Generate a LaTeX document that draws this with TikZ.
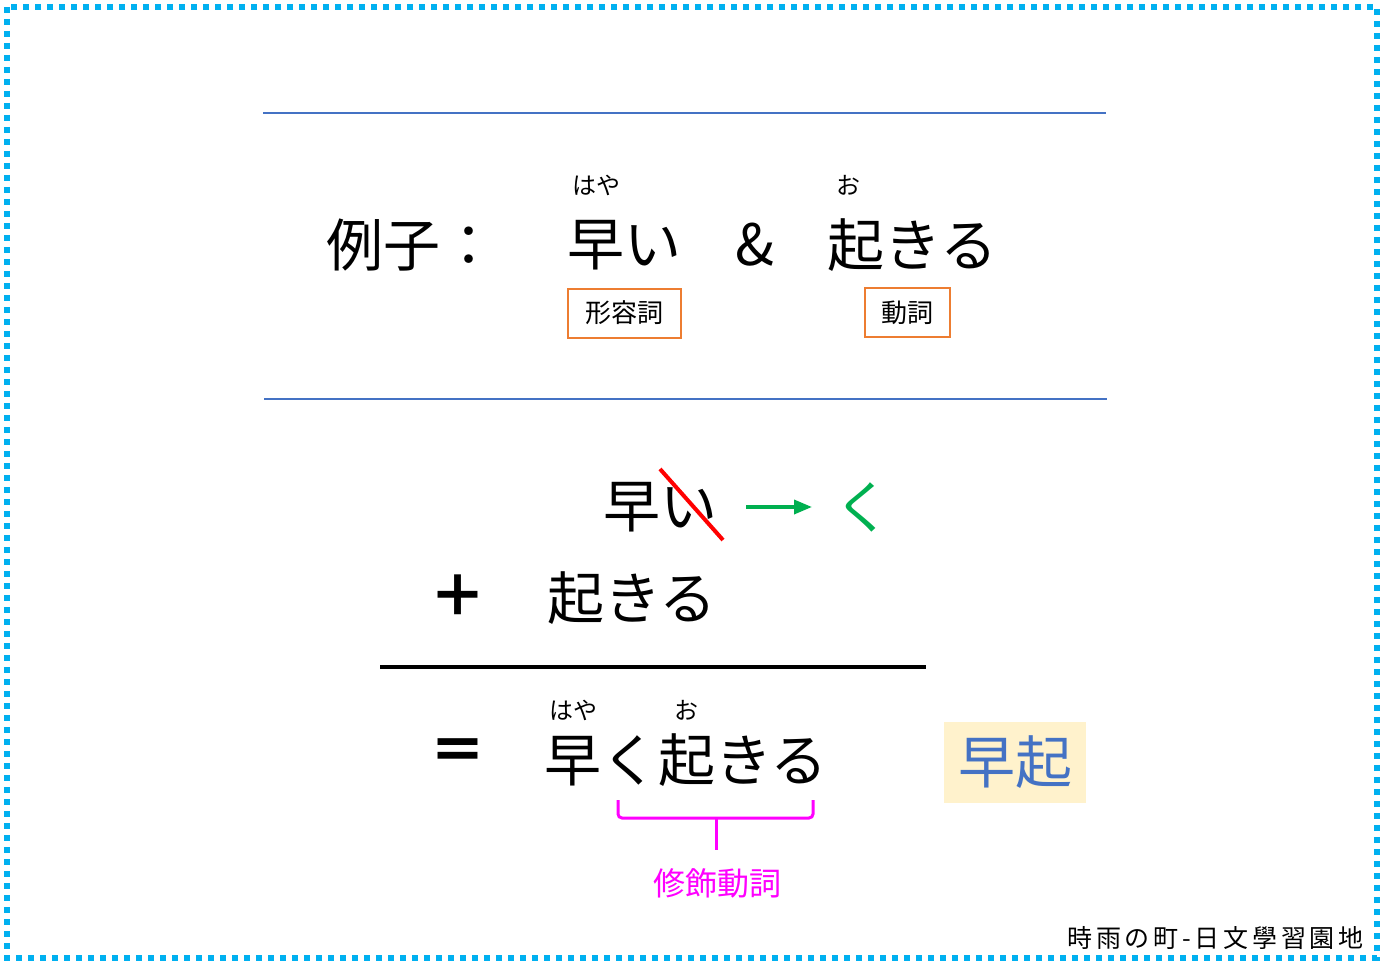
\documentclass[tikz,border=0pt]{standalone}
\usepackage{fontspec}
\setmainfont{Noto Sans CJK JP}
\definecolor{frameCyan}{HTML}{00B0F0}
\definecolor{ruleBlue}{HTML}{4472C4}
\definecolor{tagOrange}{HTML}{ED7D31}
\definecolor{arrowGreen}{HTML}{00B050}
\definecolor{markRed}{HTML}{FF0000}
\definecolor{braceMagenta}{HTML}{FF00FF}
\definecolor{answerFill}{HTML}{FFF2CC}
\usetikzlibrary{calc, positioning, arrows.meta}

\tikzset{
  bigword/.style={inner sep=0pt, font=\fontsize{28.5}{30}\selectfont},
  rubyword/.style={inner sep=0pt, font=\fontsize{12}{13}\selectfont},
  tagbox/.style={draw=tagOrange, line width=1pt, inner sep=0pt,
                 minimum height=24.5pt, font=\fontsize{13}{14}\selectfont},
  blueline/.style={draw=ruleBlue, line width=1.4pt},
  signmark/.style={inner sep=0pt, font=\fontsize{28.5}{30}\selectfont\bfseries},
}

\begin{document}
\begin{tikzpicture}[x=0.5pt, y=-0.5pt]
  \useasboundingbox (0,0) rectangle (1384,968);
  % dotted frame
  \draw[frameCyan, line width=3pt, dash pattern=on 3pt off 3pt]
    (7,7) rectangle (1377,958);

  % upper part: the two words
  \draw[blueline] (263,113) -- (1106,113);
  \draw[blueline] (264,399) -- (1107,399);

  \node[bigword] (rei) at (412,245) {例子：};
  \node[bigword] (hayai) at (624,245) {早い};
  \node[rubyword] (hayaRuby) at (596,185) {はや};
  \node[bigword] (amp) at (755,245) {\&};
  \node[bigword] (okiru) at (912,245) {起きる};
  \node[rubyword] (oRuby) at (848,185) {お};
  \node[tagbox, minimum width=56.5pt] (adj) at (624.5,313) {形容詞};
  \node[tagbox, minimum width=42.5pt] (verb) at (907.5,312.5) {動詞};

  % lower part: the change of form
  \node[bigword] (hayai2) at (660,507) {早い};
  \coordinate (slashTop) at (660,469);
  \coordinate (slashEnd) at (723,540);
  \draw[markRed, line width=2pt] (slashTop) -- (slashEnd);
  \node[bigword, text=arrowGreen] (ku) at (863,507) {く};
  \coordinate (arrowStart) at (746,507);
  \draw[arrowGreen, line width=1.8pt, -{Triangle[length=9pt, width=7pt]}]
    (arrowStart) -- (812,507);

  \node[signmark] (plus) at (458,596) {＋};
  \node[bigword] (okiru2) at (632,598) {起きる};
  \draw[line width=2pt] (380,667) -- (926,667);

  \node[signmark] (eq) at (458,755) {＝};
  \node[bigword] (result) at (686,760) {早く起きる};
  \node[rubyword] (hayaRuby2) at (573,710) {はや};
  \node[rubyword] (oRuby2) at (686,710) {お};

  \node[fill=answerFill, minimum width=71pt, minimum height=40.5pt, inner sep=0pt,
        text=ruleBlue, font=\fontsize{28.5}{30}\selectfont] (answer) at (1015,762.5) {早起};

  % brace under 早く
  \coordinate (braceL) at (618,800);
  \coordinate (braceR) at (813,800);
  \coordinate (braceMid) at (716,818);
  \coordinate (braceTip) at (716,850);
  \draw[braceMagenta, line width=1.5pt, rounded corners=2pt]
    (braceL) |- (braceMid) -| (braceR);
  \draw[braceMagenta, line width=1.5pt] (braceMid) -- (braceTip);
  \node[text=braceMagenta, inner sep=0pt, font=\fontsize{16}{17}\selectfont]
    (modify) at (717,883) {修飾動詞};

  \node[anchor=east, inner sep=0pt, font=\fontsize{12.5}{13}\selectfont\addfontfeatures{LetterSpace=15}]
    (sign) at (1364,938) {時雨の町-日文學習園地};
\end{tikzpicture}
\end{document}
